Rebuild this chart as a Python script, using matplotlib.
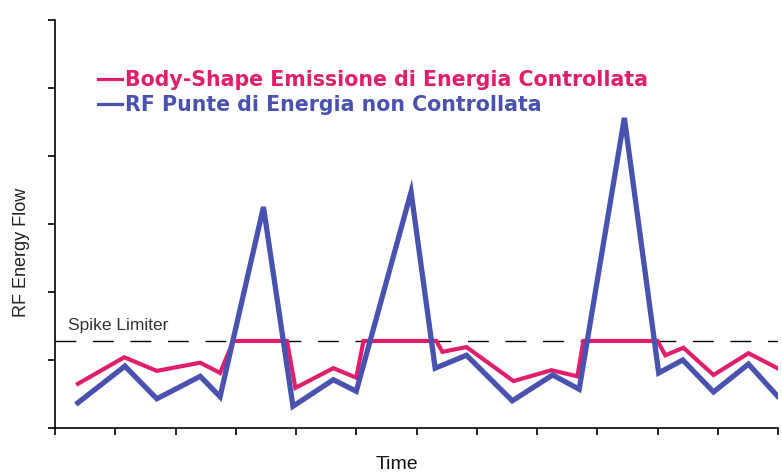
import matplotlib
matplotlib.use("Agg")
import matplotlib.pyplot as plt

# values (time units = tick intervals, flow units = y tick intervals)
uncontrolled_t = [0.38, 1.16, 1.69, 2.41, 2.74, 3.46, 3.95, 4.62, 5.00, 5.91, 6.31,
                  6.83, 7.59, 8.26, 8.70, 9.45, 10.02, 10.42, 10.93, 11.51, 11.99]
uncontrolled_e = [0.37, 0.91, 0.43, 0.76, 0.46, 3.25, 0.32, 0.71, 0.54, 3.47, 0.88,
                  1.07, 0.40, 0.78, 0.57, 4.56, 0.81, 1.00, 0.53, 0.94, 0.47]

controlled_t = [0.38, 1.15, 1.69, 2.41, 2.74, 2.96, 3.85, 3.99, 4.62, 5.00, 5.12, 6.33,
                6.43, 6.83, 7.61, 8.24, 8.67, 8.77, 10.00, 10.13, 10.43, 10.93, 11.51, 11.99]
controlled_e = [0.65, 1.04, 0.84, 0.96, 0.81, 1.28, 1.28, 0.59, 0.88, 0.74, 1.28, 1.28,
                1.12, 1.19, 0.69, 0.85, 0.76, 1.28, 1.28, 1.07, 1.18, 0.78, 1.10, 0.88]

spike_limit = 1.28

label_controlled = "Body-Shape Emissione di Energia Controllata"
label_uncontrolled = "RF Punte di Energia non Controllata"

pink = "#df1f6c"
blue = "#4a52b0"

fig = plt.figure(figsize=(7.82, 4.75), dpi=100)
ax = fig.add_axes([55 / 782, 47 / 475, 723 / 782, 408 / 475])

ax.axhline(spike_limit, color="black", lw=1.0, dashes=(15, 12))
ax.plot(controlled_t, controlled_e, color=pink, lw=3.0, solid_joinstyle="miter",
        label=label_controlled)
ax.plot(uncontrolled_t, uncontrolled_e, color=blue, lw=3.8, solid_joinstyle="miter",
        label=label_uncontrolled)

ax.set_xlim(0, 12)
ax.set_ylim(0, 6)
ax.set_xticks(range(13))
ax.set_yticks(range(7))
ax.set_xticklabels([])
ax.set_yticklabels([])
ax.tick_params(direction="out", length=5, width=1.2, color="black")
for s in ["top", "right"]:
    ax.spines[s].set_visible(False)
for s in ["left", "bottom"]:
    ax.spines[s].set_linewidth(1.2)

ax.text(0.21, spike_limit + 0.12, "Spike Limiter", fontsize=12.5, color="#333333",
        family="Liberation Sans", va="bottom")

fig.text(397 / 782, 1 - 469 / 475, "Time", fontsize=14, family="Liberation Sans",
         ha="center", va="baseline", color="#111111")
fig.text(22 / 782, 1 - 252 / 475, "RF Energy Flow", fontsize=13, family="Liberation Sans",
         rotation=90, ha="center", va="center", color="#222222")

leg = ax.legend(loc="upper left", bbox_to_anchor=(88 / 782, 1 - 60 / 475),
                bbox_transform=fig.transFigure, frameon=False, borderpad=0,
                labelcolor="linecolor", handlelength=1.15, handletextpad=0.15,
                labelspacing=0.24, prop={"family": "DejaVu Sans", "weight": "bold", "size": 14.8})
for h in leg.legend_handles:
    h.set_linewidth(2.3)

fig.savefig("out.png", dpi=100)
